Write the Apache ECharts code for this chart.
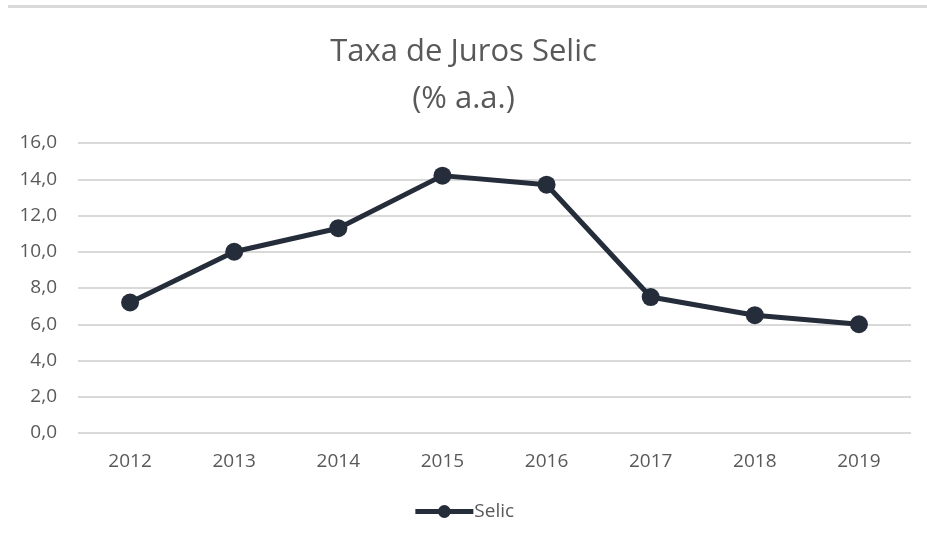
<!DOCTYPE html>
<html><head><meta charset="utf-8">
<script src="https://cdn.jsdelivr.net/npm/echarts@6/dist/echarts.min.js"></script>
<style>html,body{margin:0;padding:0;background:#fff}#c{width:927px;height:543px}</style>
</head><body><div id="c"></div>
<script>
const categories = ['2012','2013','2014','2015','2016','2017','2018','2019'];
const selic = [7.2, 10.0, 11.3, 14.2, 13.7, 7.5, 6.5, 6.0];
const seriesName = 'Selic';
const titleLines = ['Taxa de Juros Selic', '(% a.a.)'];

const chart = echarts.init(document.getElementById('c'), null, {renderer:'canvas'});
const font = "'Open Sans', 'Liberation Sans', sans-serif";
chart.setOption({
  animation: false,
  backgroundColor: '#fff',
  graphic: [{type:'line', shape:{x1:8,y1:6.5,x2:927,y2:6.5}, style:{stroke:'#d9d9d9', lineWidth:3}}],
  title: {
    text: titleLines.join('\n'), left: 'center', top: 24,
    textStyle: {fontFamily: font, fontSize: 31, fontWeight: 'normal', color: '#595959', lineHeight: 47}
  },
  grid: {left: 78, right: 16, top: 143, bottom: 110},
  legend: {
    data: [seriesName], bottom: 17, left: 'center', itemWidth: 58, itemHeight: 16, itemGap: 0,
    lineStyle: {width: 5},
    textStyle: {fontFamily: font, fontSize: 19, color: '#595959', padding:[0,0,0,-4]}
  },
  xAxis: {
    type: 'category', data: categories, boundaryGap: true,
    axisLine: {show: false}, axisTick: {show: false},
    axisLabel: {fontFamily: font, fontSize: 19, color: '#595959', margin: 19}
  },
  yAxis: {
    type: 'value', min: 0, max: 16, interval: 2,
    axisLine: {show: false}, axisTick: {show: false},
    axisLabel: {fontFamily: font, fontSize: 19, color: '#595959', margin: 21,
      formatter: v => v.toFixed(1).replace('.', ',')},
    splitLine: {lineStyle: {color: '#d9d9d9', width: 2}}
  },
  series: [{
    name: seriesName, type: 'line', data: selic,
    symbol: 'circle', symbolSize: 18,
    lineStyle: {color: '#252d3a', width: 5},
    itemStyle: {color: '#252d3a'}
  }]
});
</script></body></html>
